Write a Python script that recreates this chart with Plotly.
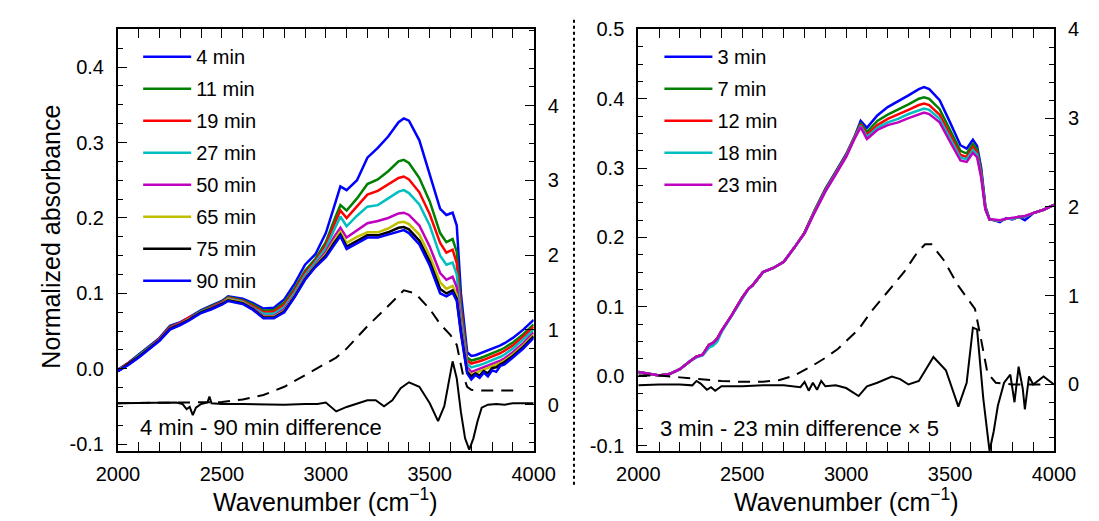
import plotly.graph_objects as go

# ---------------- data: left panel ----------------
WN_L = [2000, 2050, 2100, 2150, 2200, 2250, 2300, 2340, 2360, 2400, 2450, 2500, 2530, 2600,
        2650, 2700, 2750, 2800, 2850, 2900, 2950, 3000, 3040, 3070, 3100, 3150, 3200, 3250,
        3300, 3350, 3375, 3400, 3450, 3500, 3550, 3580, 3610, 3630, 3650, 3680, 3700, 3720,
        3740, 3760, 3780, 3800, 3820, 3840, 3860, 3900, 3950, 4000]

L_4 = [-0.001, 0.008, 0.019, 0.030, 0.041, 0.057, 0.062, 0.068, 0.071, 0.078, 0.084, 0.090, 0.096, 0.093,
       0.087, 0.080, 0.081, 0.092, 0.113, 0.138, 0.152, 0.180, 0.215, 0.242, 0.237, 0.250, 0.280, 0.293,
       0.308, 0.327, 0.332, 0.329, 0.303, 0.258, 0.212, 0.204, 0.207, 0.190, 0.100, 0.022, 0.017, 0.018,
       0.020, 0.022, 0.024, 0.026, 0.028, 0.031, 0.034, 0.041, 0.052, 0.065]
L_11 = [-0.002, 0.007, 0.018, 0.029, 0.040, 0.056, 0.061, 0.067, 0.070, 0.077, 0.083, 0.089, 0.095, 0.091,
        0.085, 0.077, 0.078, 0.088, 0.107, 0.130, 0.146, 0.168, 0.197, 0.217, 0.210, 0.226, 0.245, 0.251,
        0.262, 0.275, 0.277, 0.273, 0.253, 0.222, 0.180, 0.168, 0.172, 0.155, 0.085, 0.015, 0.011, 0.012,
        0.014, 0.016, 0.018, 0.020, 0.022, 0.025, 0.028, 0.035, 0.046, 0.059]
L_19 = [-0.002, 0.007, 0.017, 0.028, 0.040, 0.055, 0.061, 0.068, 0.070, 0.076, 0.082, 0.088, 0.094, 0.090,
        0.083, 0.075, 0.076, 0.085, 0.104, 0.127, 0.143, 0.164, 0.191, 0.210, 0.200, 0.215, 0.231, 0.236,
        0.244, 0.253, 0.255, 0.251, 0.234, 0.205, 0.167, 0.154, 0.158, 0.140, 0.078, 0.011, 0.007, 0.008,
        0.010, 0.012, 0.014, 0.016, 0.018, 0.021, 0.024, 0.031, 0.043, 0.056]
L_27 = [-0.002, 0.006, 0.017, 0.028, 0.039, 0.054, 0.060, 0.066, 0.069, 0.076, 0.081, 0.087, 0.093, 0.089,
        0.081, 0.073, 0.073, 0.082, 0.101, 0.124, 0.141, 0.160, 0.184, 0.202, 0.189, 0.203, 0.215, 0.217,
        0.226, 0.235, 0.237, 0.233, 0.218, 0.190, 0.150, 0.138, 0.141, 0.125, 0.068, 0.007, 0.002, 0.003,
        0.005, 0.007, 0.009, 0.011, 0.013, 0.016, 0.019, 0.027, 0.039, 0.052]
L_50 = [-0.002, 0.006, 0.016, 0.027, 0.039, 0.054, 0.060, 0.066, 0.069, 0.075, 0.081, 0.087, 0.092, 0.088,
        0.080, 0.070, 0.070, 0.079, 0.098, 0.121, 0.138, 0.155, 0.175, 0.187, 0.174, 0.184, 0.193, 0.196,
        0.200, 0.206, 0.207, 0.204, 0.190, 0.162, 0.127, 0.118, 0.122, 0.108, 0.058, 0.002, -0.004, -0.002,
        0.000, 0.002, 0.004, 0.006, 0.008, 0.011, 0.014, 0.022, 0.034, 0.048]
L_65 = [-0.002, 0.006, 0.016, 0.027, 0.038, 0.053, 0.059, 0.066, 0.068, 0.075, 0.080, 0.086, 0.092, 0.088,
        0.079, 0.069, 0.069, 0.077, 0.097, 0.120, 0.137, 0.152, 0.170, 0.182, 0.167, 0.175, 0.181, 0.181,
        0.186, 0.194, 0.195, 0.192, 0.178, 0.150, 0.115, 0.106, 0.110, 0.098, 0.053, -0.002, -0.008, -0.005,
        -0.003, -0.001, 0.001, 0.003, 0.005, 0.008, 0.011, 0.019, 0.031, 0.045]
L_75 = [-0.003, 0.006, 0.016, 0.027, 0.038, 0.053, 0.059, 0.065, 0.068, 0.075, 0.080, 0.086, 0.091, 0.087,
        0.079, 0.068, 0.068, 0.076, 0.096, 0.119, 0.136, 0.150, 0.167, 0.178, 0.162, 0.170, 0.177, 0.177,
        0.181, 0.187, 0.188, 0.185, 0.170, 0.142, 0.106, 0.100, 0.104, 0.093, 0.050, -0.004, -0.010, -0.006,
        -0.009, -0.003, -0.006, 0.001, 0.002, 0.006, 0.009, 0.017, 0.029, 0.043]
L_90 = [-0.003, 0.005, 0.015, 0.026, 0.037, 0.052, 0.058, 0.064, 0.067, 0.074, 0.079, 0.085, 0.090, 0.086,
        0.078, 0.067, 0.067, 0.075, 0.095, 0.118, 0.135, 0.148, 0.164, 0.176, 0.159, 0.167, 0.174, 0.174,
        0.178, 0.183, 0.184, 0.180, 0.165, 0.137, 0.100, 0.096, 0.101, 0.090, 0.047, -0.006, -0.014, -0.008,
        -0.012, -0.005, -0.010, -0.002, -0.004, 0.004, 0.006, 0.015, 0.027, 0.041]

LEFT_NAMES = ["4 min", "11 min", "19 min", "27 min", "50 min", "65 min", "75 min", "90 min"]
LEFT_SERIES = [L_4, L_11, L_19, L_27, L_50, L_65, L_75, L_90]

DASH_L_WN = [2000, 2200, 2400, 2500, 2600, 2700, 2800, 2900, 3000, 3050, 3100, 3200, 3300, 3375,
             3430, 3500, 3550, 3600, 3630, 3660, 3680, 3700, 3750, 3850, 3930]
DASH_L = [0.02, 0.03, 0.03, 0.035, 0.07, 0.13, 0.24, 0.40, 0.55, 0.63, 0.75, 1.05, 1.32, 1.53,
          1.49, 1.28, 1.08, 0.93, 0.80, 0.40, 0.24, 0.20, 0.19, 0.19, 0.19]

DIFF_L_WN = [2000, 2100, 2200, 2280, 2310, 2330, 2345, 2360, 2375, 2400, 2430, 2440, 2450, 2500,
             2600, 2700, 2800, 2900, 2960, 3000, 3050, 3100, 3150, 3200, 3240, 3280, 3320, 3360,
             3400, 3450, 3500, 3540, 3570, 3590, 3610, 3630, 3650, 3670, 3690, 3710, 3730, 3750,
             3780, 3820, 3860, 3900, 3950, 4000]
DIFF_L = [0.02, 0.02, 0.03, 0.03, 0.01, -0.06, -0.03, -0.14, -0.04, 0.01, 0.03, 0.11, 0.02, 0.01,
          0.01, 0.00, 0.00, 0.01, 0.01, 0.03, -0.09, -0.03, 0.02, 0.06, 0.06, -0.02, 0.06, 0.22,
          0.30, 0.24, 0.02, -0.22, -0.02, 0.30, 0.58, 0.35, -0.10, -0.45, -0.60, -0.45, -0.22, -0.04,
          0.00, 0.01, 0.00, 0.02, 0.02, 0.02]

# ---------------- data: right panel ----------------
WN_R = [2000, 2050, 2100, 2150, 2200, 2250, 2280, 2310, 2340, 2360, 2380, 2400, 2450, 2500, 2530,
        2550, 2600, 2650, 2700, 2750, 2800, 2850, 2900, 2950, 3000, 3040, 3070, 3100, 3150, 3200,
        3250, 3300, 3350, 3375, 3400, 3450, 3500, 3550, 3580, 3610, 3630, 3650, 3670, 3690, 3710,
        3740, 3770, 3800, 3830, 3860, 3900, 3950, 4000]

R_3 = [0.006, 0.003, 0.001, 0.003, 0.010, 0.022, 0.028, 0.031, 0.045, 0.048, 0.054, 0.065, 0.088, 0.113, 0.126,
       0.131, 0.150, 0.156, 0.165, 0.185, 0.207, 0.240, 0.270, 0.295, 0.320, 0.345, 0.368, 0.358, 0.376, 0.388,
       0.396, 0.405, 0.414, 0.417, 0.414, 0.398, 0.366, 0.333, 0.328, 0.341, 0.332, 0.300, 0.245, 0.226, 0.225,
       0.222, 0.228, 0.226, 0.230, 0.225, 0.235, 0.240, 0.247]
R_7 = [0.006, 0.003, 0.001, 0.003, 0.010, 0.022, 0.028, 0.031, 0.045, 0.048, 0.054, 0.065, 0.088, 0.113, 0.126,
       0.131, 0.150, 0.156, 0.165, 0.185, 0.207, 0.240, 0.269, 0.294, 0.319, 0.345, 0.365, 0.352, 0.368, 0.377,
       0.384, 0.392, 0.400, 0.402, 0.400, 0.385, 0.355, 0.325, 0.321, 0.335, 0.327, 0.296, 0.243, 0.226, 0.225,
       0.224, 0.227, 0.227, 0.229, 0.230, 0.235, 0.240, 0.247]
R_12 = [0.006, 0.003, 0.001, 0.003, 0.010, 0.022, 0.028, 0.031, 0.045, 0.048, 0.054, 0.065, 0.088, 0.113, 0.126,
        0.131, 0.150, 0.156, 0.165, 0.185, 0.207, 0.239, 0.268, 0.293, 0.318, 0.344, 0.363, 0.348, 0.362, 0.371,
        0.377, 0.384, 0.391, 0.393, 0.391, 0.377, 0.348, 0.319, 0.316, 0.330, 0.322, 0.292, 0.242, 0.226, 0.225,
        0.224, 0.227, 0.227, 0.229, 0.230, 0.235, 0.240, 0.247]
R_18 = [0.006, 0.003, 0.001, 0.003, 0.010, 0.022, 0.027, 0.030, 0.041, 0.044, 0.050, 0.063, 0.087, 0.112, 0.126,
        0.131, 0.150, 0.156, 0.165, 0.185, 0.206, 0.238, 0.267, 0.292, 0.317, 0.343, 0.361, 0.345, 0.358, 0.366,
        0.371, 0.378, 0.384, 0.386, 0.384, 0.371, 0.343, 0.315, 0.313, 0.326, 0.319, 0.289, 0.241, 0.226, 0.225,
        0.224, 0.227, 0.227, 0.229, 0.230, 0.235, 0.240, 0.247]
R_23 = [0.006, 0.003, 0.001, 0.003, 0.010, 0.022, 0.028, 0.031, 0.045, 0.048, 0.054, 0.065, 0.088, 0.113, 0.126,
        0.131, 0.150, 0.156, 0.165, 0.185, 0.206, 0.237, 0.266, 0.291, 0.316, 0.342, 0.359, 0.342, 0.355, 0.362,
        0.366, 0.372, 0.378, 0.380, 0.378, 0.366, 0.338, 0.311, 0.309, 0.322, 0.316, 0.286, 0.240, 0.226, 0.226,
        0.225, 0.227, 0.228, 0.229, 0.231, 0.235, 0.240, 0.247]

RIGHT_NAMES = ["3 min", "7 min", "12 min", "18 min", "23 min"]
RIGHT_SERIES = [R_3, R_7, R_12, R_18, R_23]

DASH_R_WN = [2000, 2100, 2200, 2300, 2400, 2500, 2600, 2680, 2750, 2830, 2900, 2960, 3020, 3060, 3120,
             3210, 3280, 3340, 3380, 3410, 3470, 3540, 3620, 3650, 3680, 3720, 3800, 3900, 3950]
DASH_R = [0.10, 0.10, 0.08, 0.06, 0.04, 0.03, 0.03, 0.05, 0.10, 0.20, 0.30, 0.40, 0.53, 0.62, 0.82,
          1.07, 1.27, 1.48, 1.58, 1.58, 1.40, 1.11, 0.85, 0.50, 0.13, 0.02, 0.00, 0.00, 0.00]

DIFF_R_WN = [2000, 2100, 2200, 2260, 2280, 2300, 2330, 2350, 2370, 2400, 2500, 2600, 2700, 2780, 2800,
             2820, 2840, 2860, 2880, 2900, 2950, 3000, 3060, 3100, 3150, 3220, 3260, 3300, 3350, 3420,
             3480, 3540, 3580, 3610, 3630, 3660, 3690, 3710, 3730, 3760, 3790, 3810, 3830, 3850, 3860,
             3880, 3900, 3950, 4000]
DIFF_R = [-0.01, 0.00, 0.00, -0.01, 0.04, 0.01, -0.06, -0.03, -0.07, -0.02, -0.02, -0.01, -0.01, -0.03, 0.03,
          -0.07, 0.02, -0.06, 0.04, -0.02, -0.01, -0.04, -0.13, -0.02, 0.02, 0.09, 0.06, 0.00, 0.04, 0.31,
          0.16, -0.25, 0.02, 0.64, 0.62, -0.16, -0.75, -0.53, -0.24, 0.02, 0.11, -0.20, 0.20, -0.05, -0.28,
          0.09, 0.00, 0.09, 0.00]

LEFT_COLORS = ["#0000ff", "#008000", "#ff0000", "#00bfbf", "#bf00bf", "#bfbf00", "#000000", "#0000ff"]
RIGHT_COLORS = ["#0000ff", "#008000", "#ff0000", "#00bfbf", "#bf00bf"]

X_TICKS = [2000, 2500, 3000, 3500, 4000]
YL_TICKS = [-0.1, 0.0, 0.1, 0.2, 0.3, 0.4]
YL_TEXT = ["-0.1", "0.0", "0.1", "0.2", "0.3", "0.4"]
YR_TICKS = [-0.1, 0.0, 0.1, 0.2, 0.3, 0.4, 0.5]
YR_TEXT = ["-0.1", "0.0", "0.1", "0.2", "0.3", "0.4", "0.5"]
Y2_TICKS = [0, 1, 2, 3, 4]

# ---------------- figure ----------------
W, H = 1099, 521
FONT = "Liberation Sans"

def px(x):
    return x / W

def py(y):
    return 1 - y / H

fig = go.Figure()

for i, (name, ys, c) in enumerate(zip(LEFT_NAMES, LEFT_SERIES, LEFT_COLORS)):
    fig.add_trace(go.Scatter(x=WN_L, y=ys, mode="lines", name=name, line=dict(color=c, width=2.5),
                             xaxis="x", yaxis="y", legend="legend", legendgroup="L%d" % i))
fig.add_trace(go.Scatter(x=DASH_L_WN, y=DASH_L, mode="lines", showlegend=False,
                         line=dict(color="black", width=2, dash="12px,8px"), xaxis="x", yaxis="y2"))
fig.add_trace(go.Scatter(x=DIFF_L_WN, y=DIFF_L, mode="lines", showlegend=False,
                         line=dict(color="black", width=2), xaxis="x", yaxis="y2"))

for i, (name, ys, c) in enumerate(zip(RIGHT_NAMES, RIGHT_SERIES, RIGHT_COLORS)):
    fig.add_trace(go.Scatter(x=WN_R, y=ys, mode="lines", name=name, line=dict(color=c, width=2.5),
                             xaxis="x2", yaxis="y3", legend="legend2", legendgroup="R%d" % i))
fig.add_trace(go.Scatter(x=DASH_R_WN, y=DASH_R, mode="lines", showlegend=False,
                         line=dict(color="black", width=2, dash="12px,8px"), xaxis="x2", yaxis="y4"))
fig.add_trace(go.Scatter(x=DIFF_R_WN, y=DIFF_R, mode="lines", showlegend=False,
                         line=dict(color="black", width=2), xaxis="x2", yaxis="y4"))

tickfont = dict(family=FONT, size=20, color="black")
axis_common = dict(showline=True, linecolor="black", linewidth=2, ticks="inside",
                   tickcolor="black", tickwidth=1.2, ticklen=9, showgrid=False, zeroline=False,
                   tickfont=tickfont)

xdom_l = [px(100), px(533)]
xdom_r = [px(642), px(1075)]
ydom = [py(454), py(19)]

def minor(dt, t0=0):
    return dict(dtick=dt, tick0=t0, ticks="inside", ticklen=5, tickcolor="black", showgrid=False)

fig.update_layout(
    width=W, height=H, margin=dict(l=0, r=0, t=0, b=0),
    plot_bgcolor="white", paper_bgcolor="white",
    font=dict(family=FONT, color="black"),
    xaxis=dict(domain=xdom_l, range=[2000, 4000], anchor="y", tickvals=X_TICKS, mirror="allticks",
               minor=minor(100, 2000), ticklabelstandoff=4, **axis_common),
    yaxis=dict(domain=ydom, range=[-0.109, 0.45], anchor="x", tickvals=YL_TICKS, ticktext=YL_TEXT,
               mirror=True, minor=minor(0.025), ticklabelstandoff=8, **axis_common),
    yaxis2=dict(range=[-0.62, 5.02], anchor="x", overlaying="y", side="right", tickvals=Y2_TICKS,
                minor=minor(0.25), ticklabelstandoff=8, **axis_common),
    xaxis2=dict(domain=xdom_r, range=[2000, 4000], anchor="y3", tickvals=X_TICKS, mirror="allticks",
                minor=minor(100, 2000), ticklabelstandoff=4, **axis_common),
    yaxis3=dict(domain=ydom, range=[-0.108, 0.5], anchor="x2", tickvals=YR_TICKS, ticktext=YR_TEXT,
                mirror=True, minor=minor(0.025), ticklabelstandoff=8, **axis_common),
    yaxis4=dict(range=[-0.75, 4.0], anchor="x2", overlaying="y3", side="right", tickvals=Y2_TICKS,
                minor=minor(0.2), ticklabelstandoff=8, **axis_common),
    legend=dict(x=px(121), y=py(27), xanchor="left", yanchor="top", bgcolor="rgba(0,0,0,0)",
                font=dict(family=FONT, size=20, color="black"), itemwidth=48,
                traceorder="grouped", tracegroupgap=3),
    legend2=dict(x=px(664), y=py(27), xanchor="left", yanchor="top", bgcolor="rgba(0,0,0,0)",
                 font=dict(family=FONT, size=20, color="black"), itemwidth=48,
                 traceorder="grouped", tracegroupgap=3),
    showlegend=True,
)

fig.add_shape(type="line", xref="paper", yref="paper", x0=px(575), x1=px(575), y0=py(9), y1=py(490),
              line=dict(color="black", width=2, dash="dot"))

ann_font = dict(family=FONT, size=22, color="black")
fig.add_annotation(x=px(121), y=py(430), xref="paper", yref="paper", text="4 min - 90 min difference",
                   showarrow=False, xanchor="left", yanchor="middle", font=ann_font)
fig.add_annotation(x=px(663), y=py(431), xref="paper", yref="paper",
                   text="3 min - 23 min difference \u00d7 5",
                   showarrow=False, xanchor="left", yanchor="middle", font=ann_font)

title_font = dict(family=FONT, size=25, color="black")
fig.add_annotation(x=px(30), y=py(233), xref="paper", yref="paper", text="Normalized absorbance",
                   textangle=-90, showarrow=False, xanchor="center", yanchor="middle", font=title_font)
fig.add_annotation(x=px(316.5), y=py(505), xref="paper", yref="paper",
                   text="Wavenumber (cm<sup>\u22121</sup>)",
                   showarrow=False, xanchor="center", yanchor="middle", font=title_font)
fig.add_annotation(x=px(858.5), y=py(505), xref="paper", yref="paper",
                   text="Wavenumber (cm<sup>\u22121</sup>)",
                   showarrow=False, xanchor="center", yanchor="middle", font=title_font)

fig.write_html("out.html", config={"displayModeBar": False},
               post_script="document.body.style.margin='0px';")
